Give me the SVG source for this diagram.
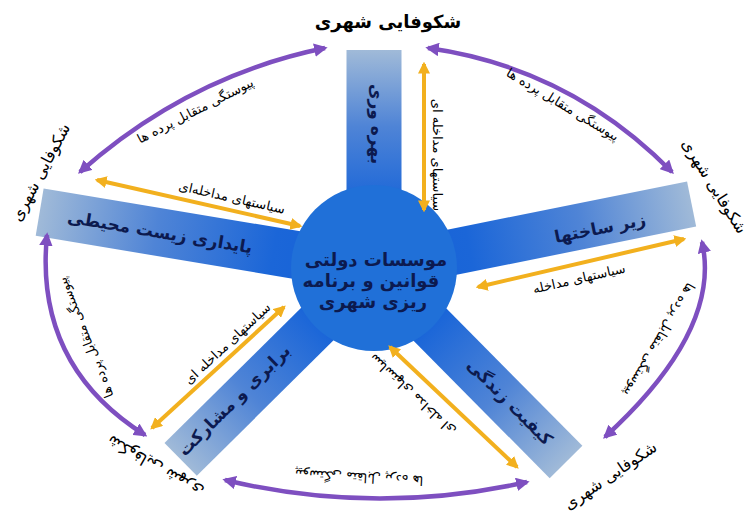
<svg xmlns="http://www.w3.org/2000/svg" width="750" height="520" viewBox="0 0 750 520">
<defs>
<linearGradient id="armg" x1="0" y1="0" x2="1" y2="0">
<stop offset="0" stop-color="#1461d8"/>
<stop offset="0.3" stop-color="#1b66d8"/>
<stop offset="0.65" stop-color="#4f84d6"/>
<stop offset="1" stop-color="#a0bad8"/>
</linearGradient>
<marker id="my" viewBox="0 0 10 10" refX="8" refY="5" markerWidth="3" markerHeight="3" orient="auto-start-reverse" markerUnits="strokeWidth">
<path d="M0,0 L10,5 L0,10 z" fill="#f2b01e"/>
</marker>
<marker id="mp" viewBox="0 0 10 10" refX="8" refY="5" markerWidth="3" markerHeight="3" orient="auto-start-reverse" markerUnits="strokeWidth">
<path d="M0,0 L10,5 L0,10 z" fill="#7e4fc0"/>
</marker>
<style>
text{font-family:"DejaVu Sans",sans-serif;fill:#000;text-anchor:middle}
.arm{font-size:17px;font-weight:bold;fill:#0c1a4f}
.ctr{font-size:18px;font-weight:bold;fill:#0c1a4f}
.yl{font-size:13px}
.pl{font-size:13px}
.out{font-size:16px}
.top{font-size:18px;font-weight:bold}
.y{stroke:#f2b01e;stroke-width:4;fill:none;marker-start:url(#my);marker-end:url(#my)}
.p{stroke:#7e4fc0;stroke-width:4.5;fill:none;marker-start:url(#mp);marker-end:url(#mp)}
</style>
</defs>
<g id="arms">
<g id="arm-top" transform="translate(374,268) rotate(-90)"><rect x="0" y="-27.5" width="218" height="55" fill="url(#armg)"/></g>
<g id="arm-left" transform="translate(374,268) rotate(189.5)"><rect x="0" y="-24" width="339" height="48" fill="url(#armg)"/></g>
<g id="arm-right" transform="translate(374,268) rotate(-11.4)"><rect x="0" y="-23" width="324" height="46" fill="url(#armg)"/></g>
<g id="arm-ll" transform="translate(374,268) rotate(135.3)"><rect x="0" y="-23" width="272" height="46" fill="url(#armg)"/></g>
<g id="arm-lr" transform="translate(374,268) rotate(45.3)"><rect x="0" y="-23" width="273" height="46" fill="url(#armg)"/></g>
</g>
<g id="center">
<circle cx="374" cy="268" r="83" fill="#2070d8"/>
<text class="ctr" x="376" y="266">موسسات دولتی</text>
<text class="ctr" x="371" y="287">قوانین و برنامه</text>
<text class="ctr" x="373" y="308">ریزی شهری</text>
</g>
<g id="arm-labels">
<text class="arm" transform="translate(377,124) rotate(90)" y="6">بهره وری</text>
<text class="arm" transform="translate(160,232) rotate(9.5)" y="6">پایداری زیست محیطی</text>
<text class="arm" transform="translate(600,228) rotate(-11.4)" y="6">زیر ساختها</text>
<text class="arm" transform="translate(234,400) rotate(-44.7)" y="6">برابری و مشارکت</text>
<text class="arm" transform="translate(510,402) rotate(45.3)" y="6">کیفیت زندگی</text>
</g>
<g id="connectors">
<path class="y" d="M424,64 L424,210"/>
<path class="y" d="M97,180 L300,226"/>
<path class="y" d="M478,287 L684,239"/>
<path class="y" d="M152,428 L284,307"/>
<path class="y" d="M390,347 L517,467"/>
<path class="p" d="M80,172 Q188,76 325,48"/>
<path class="p" d="M428,48 Q570,68 672,172"/>
<path class="p" d="M702,242 Q722,330 605,437"/>
<path class="p" d="M527,482 Q375,516 225,480"/>
<path class="p" d="M145,435 Q34,365 47,235"/>
</g>
<g id="connector-labels">
<text class="yl" transform="translate(438,155) rotate(90)" y="5">سیاستهای مداخله ای</text>
<text class="yl" transform="translate(232,197) rotate(12.7)" y="5">سیاستهای مداخله‌ای</text>
<text class="yl" transform="translate(579,278) rotate(-13)" y="5">سیاستهای مداخله</text>
<text class="yl" transform="translate(227,343) rotate(-43)" y="5">سیاستهای مداخله ای</text>
<text class="yl" transform="translate(412,395) rotate(-137)" y="5">سیاستهای مداخله ای</text>
<text class="pl" transform="translate(195,110) rotate(-27)" y="5">پیوستگی متقابل پرده ها</text>
<text class="pl" transform="translate(563,104) rotate(31)" y="5">پیوستگی متقابل پرده ها</text>
<text class="pl" transform="translate(660,340) rotate(120)" y="5">پیوستگی متقابل پرده ها</text>
<text class="pl" transform="translate(359,478) rotate(183)" y="5">پیوستگی متقابل پرده ها</text>
<text class="pl" transform="translate(85,338) rotate(-112)" y="5">پیوستگی متقابل پرده ها</text>
</g>
<g id="outer-nodes">
<text class="top" x="388" y="28">شکوفایی شهری</text>
<text class="out" transform="translate(715,186) rotate(58)" y="6">شکوفایی شهری</text>
<text class="out" transform="translate(610,475) rotate(-34)" y="6">شکوفایی شهری</text>
<text class="out" transform="translate(155,467) rotate(-150)" y="6">شکوفایی شهری</text>
<text class="out" transform="translate(40,172) rotate(-62)" y="6">شکوفایی شهری</text>
</g>
</svg>
